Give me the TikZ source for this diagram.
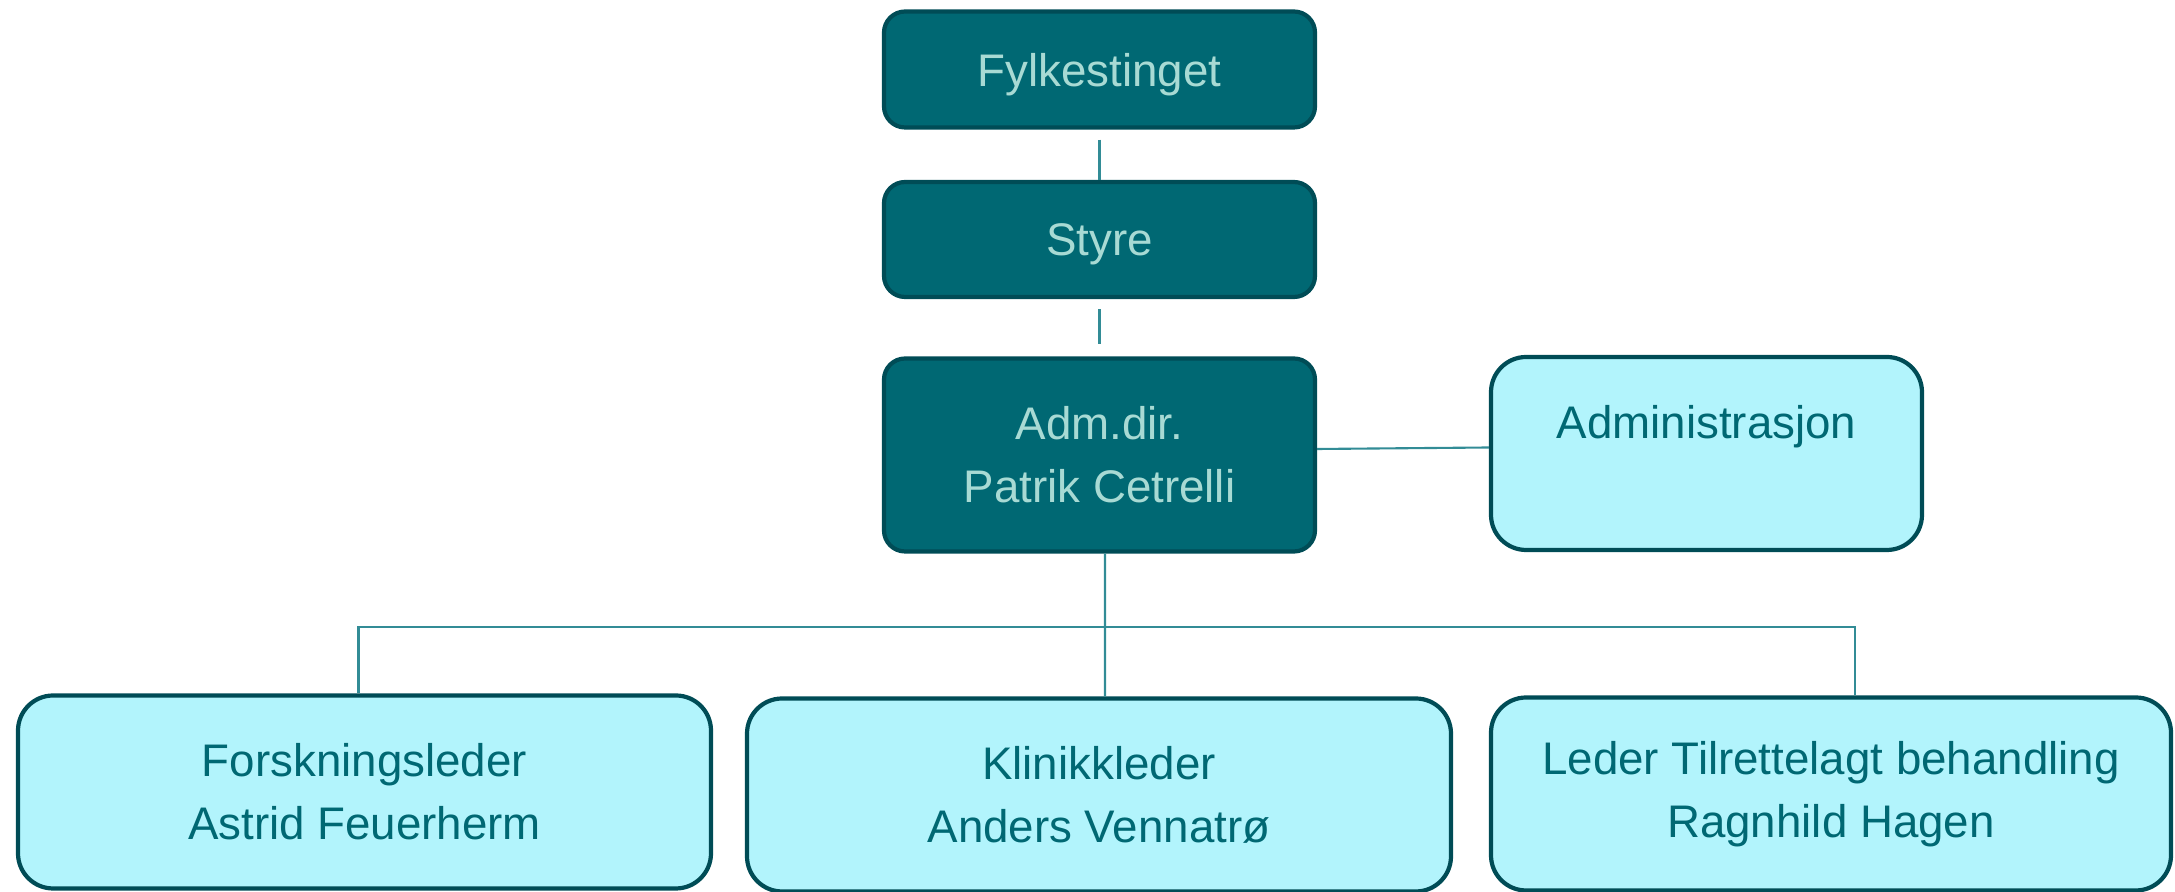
\documentclass[tikz,border=0pt]{standalone}
\usepackage{fontspec}
\setmainfont{Liberation Sans}
\usepackage{tikz}
\usetikzlibrary{positioning,calc}
\definecolor{teal}{RGB}{0,104,115}
\definecolor{tealdark}{RGB}{0,76,86}
\definecolor{tealtext}{RGB}{168,218,212}
\definecolor{ice}{RGB}{178,244,252}
\definecolor{linkcol}{RGB}{50,140,150}
\tikzset{top/.style={draw=tealdark,fill=teal,text=tealtext,line width=1.2pt,rounded corners=6pt,minimum width=4.31cm,align=center,font=\fontsize{13}{18}\selectfont}}
\tikzset{unit/.style={draw=tealdark,fill=ice,text=teal,line width=1.2pt,rounded corners=10pt,minimum height=1.93cm,align=center,font=\fontsize{13}{18}\selectfont}}
\tikzset{link/.style={draw=linkcol,line width=0.6pt}}

\begin{document}
\begin{tikzpicture}
            \useasboundingbox (0,0) rectangle (21.75,8.92);
            \node [top,minimum height=1.16cm,text depth=0pt] (fylke) at (10.995,8.225) {Fylkestinget};
            \node [top,minimum height=1.15cm,text depth=0pt] (styre) at (10.995,6.525) {Styre};
            \node [top,minimum height=1.93cm] (adm) at (10.995,4.37) {Adm.dir.\\Patrik Cetrelli};
            \node [unit,minimum width=4.31cm] (admin) at (17.065,4.385) {Administrasjon\\\mbox{}};
            \node [unit,minimum width=6.93cm] (forsk) at (3.645,1.0) {Forskningsleder\\Astrid Feuerherm};
            \node [unit,minimum width=7.04cm] (klin) at (10.99,0.97) {Klinikkleder\\Anders Vennatrø};
            \node [unit,minimum width=6.80cm] (leder) at (18.31,0.98) {Leder Tilrettelagt behandling\\Ragnhild Hagen};
            \coordinate (bar) at ($(adm.south)+(0.055,-0.73)$);
            \draw [link,shorten <=0.1cm] (fylke) -- (styre);
            \draw [link,shorten <=0.1cm,shorten >=0.12cm] (styre) -- (adm);
            \draw [link] ([yshift=0.06cm]adm.east) -- ([yshift=0.06cm]admin.west);
            \draw [link] ([xshift=0.055cm]adm.south) -- ([xshift=0.06cm]klin.north);
            \draw [link] ([xshift=-0.06cm]forsk.north) |- (bar) -| ([xshift=0.24cm]leder.north);
\end{tikzpicture}
\end{document}
